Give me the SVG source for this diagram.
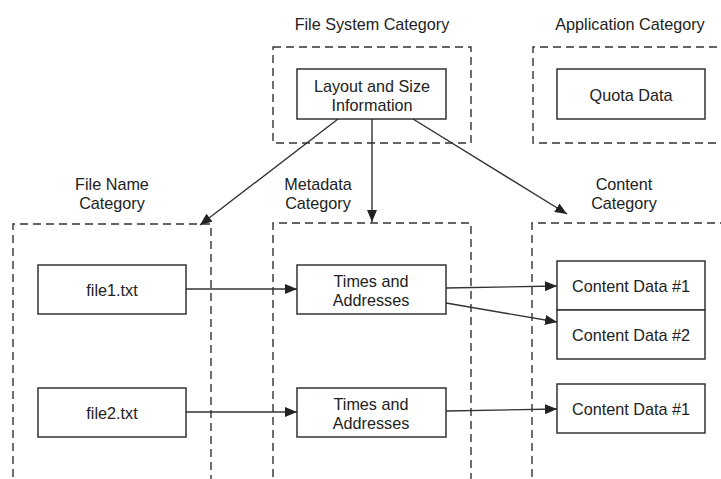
<svg xmlns="http://www.w3.org/2000/svg" width="721" height="479" viewBox="0 0 721 479">
<style>
text{font-family:"Liberation Sans",Arial,sans-serif;font-size:16.2px;fill:#222;text-anchor:middle}
.cat{fill:none;stroke:#333;stroke-width:1.4;stroke-dasharray:8 5}
.box{fill:#fff;stroke:#333;stroke-width:1.5}
.con line{stroke:#333;stroke-width:1.4;marker-end:url(#ah)}
</style>
<defs>
<marker id="ah" viewBox="0 0 12 10" refX="12" refY="5" markerWidth="12" markerHeight="10" markerUnits="userSpaceOnUse" orient="auto">
<path d="M0,0 L12,5 L0,10 Z" fill="#222"/>
</marker>
</defs>
<g id="fs-category">
<text x="372" y="30">File System Category</text>
<rect class="cat" x="273" y="47" width="198" height="96"/>
</g>
<g id="app-category">
<text x="630" y="30">Application Category</text>
<path class="cat" d="M730,47 H533 V143 H730"/>
</g>
<g id="fn-category">
<text x="112" y="190">File Name</text>
<text x="112" y="209">Category</text>
<path class="cat" d="M13,490 V224 H211 V490"/>
</g>
<g id="meta-category">
<text x="318" y="190">Metadata</text>
<text x="318" y="209">Category</text>
<path class="cat" d="M273,490 V223 H471 V490"/>
</g>
<g id="content-category">
<text x="624" y="190">Content</text>
<text x="624" y="209">Category</text>
<path class="cat" d="M532,490 V223 H730"/>
</g>
<g id="layout">
<rect class="box" x="297" y="69" width="149" height="50"/>
<text x="372" y="92">Layout and Size</text>
<text x="372" y="111">Information</text>
</g>
<g id="quota">
<rect class="box" x="557" y="69" width="148" height="50"/>
<text x="631" y="101">Quota Data</text>
</g>
<g id="file1">
<rect class="box" x="38" y="265" width="148" height="49"/>
<text x="112" y="296">file1.txt</text>
</g>
<g id="file2">
<rect class="box" x="38" y="388" width="148" height="49"/>
<text x="112" y="419">file2.txt</text>
</g>
<g id="times1">
<rect class="box" x="297" y="265" width="149" height="49"/>
<text x="371" y="287">Times and</text>
<text x="371" y="306">Addresses</text>
</g>
<g id="times2">
<rect class="box" x="297" y="388" width="149" height="49"/>
<text x="371" y="410">Times and</text>
<text x="371" y="429">Addresses</text>
</g>
<g id="content1">
<rect class="box" x="557" y="261" width="148" height="49"/>
<text x="631" y="292">Content Data #1</text>
</g>
<g id="content2">
<rect class="box" x="557" y="310" width="148" height="49"/>
<text x="631" y="341">Content Data #2</text>
</g>
<g id="content3">
<rect class="box" x="557" y="384" width="148" height="49"/>
<text x="631" y="415">Content Data #1</text>
</g>
<g class="con" id="connectors">
<line x1="338" y1="119" x2="200" y2="225"/>
<line x1="372" y1="119" x2="372" y2="222"/>
<line x1="413" y1="119" x2="567" y2="214"/>
<line x1="186" y1="289" x2="297" y2="289"/>
<line x1="186" y1="412" x2="297" y2="412"/>
<line x1="446" y1="288" x2="557" y2="286"/>
<line x1="446" y1="303" x2="557" y2="322"/>
<line x1="446" y1="411" x2="557" y2="409"/>
</g>
</svg>
